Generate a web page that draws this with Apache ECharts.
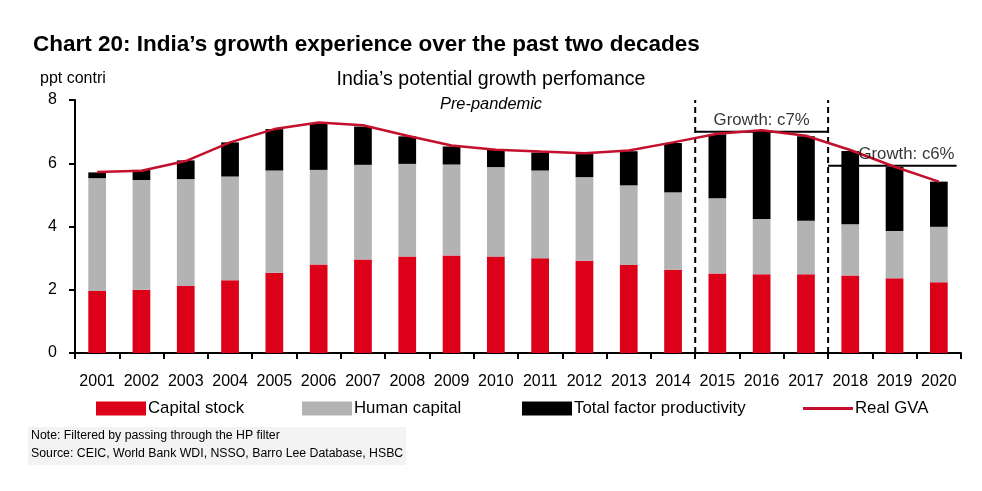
<!DOCTYPE html>
<html>
<head>
<meta charset="utf-8">
<script src="https://cdn.jsdelivr.net/npm/echarts@6/dist/echarts.min.js"></script>
<style>
html,body{margin:0;padding:0;background:#fff;}
#c{width:982px;height:491px;}
</style>
</head>
<body>
<div id="c"></div>
<script>
const years = ['2001','2002','2003','2004','2005','2006','2007','2008','2009','2010','2011','2012','2013','2014','2015','2016','2017','2018','2019','2020'];
const capitalStock = [1.96,2.00,2.12,2.30,2.54,2.80,2.96,3.05,3.08,3.05,3.00,2.92,2.78,2.63,2.51,2.49,2.49,2.45,2.36,2.24];
const humanCapital = [3.57,3.47,3.38,3.28,3.23,2.99,2.99,2.93,2.88,2.83,2.77,2.64,2.52,2.45,2.38,1.75,1.69,1.62,1.50,1.75];
const tfp = [0.18,0.32,0.59,1.08,1.31,1.48,1.21,0.87,0.57,0.54,0.57,0.73,1.08,1.56,2.03,2.79,2.67,2.32,2.02,1.43];
const realGVA = [5.72,5.76,6.07,6.66,7.08,7.29,7.20,6.87,6.56,6.43,6.37,6.32,6.40,6.66,6.93,7.04,6.87,6.42,5.89,5.42];
const yTicks = [0,2,4,6,8];
// period annotations (in category-position units along x)
const periodBounds = [14, 17];
const growth7 = {from: 14, to: 17, level: 7.0, labelAt: 15.5, text: 'Growth: c7%'};
const growth6 = {from: 17, to: 19.9, level: 5.92, labelAt: 18.77, text: 'Growth: c6%'};

const FONT = '"Liberation Sans",Arial,sans-serif';
const chart = echarts.init(document.getElementById('c'), null, {renderer:'canvas'});

const dashed = periodBounds.map(b => ({
  type:'line', xAxisIndex:1, yAxisIndex:0, symbol:'none', silent:true,
  data:[[b,0],[b,8]], lineStyle:{color:'#000', width:2, type:[6,4]}, z:5
}));
function growthSeries(g){
  return [{
    type:'line', xAxisIndex:1, yAxisIndex:0, symbol:'none', silent:true,
    data:[[g.from,g.level],[g.to,g.level]], lineStyle:{color:'#000', width:2}, z:4
  },{
    type:'scatter', xAxisIndex:1, yAxisIndex:0, symbolSize:0, silent:true, z:7,
    data:[[g.labelAt, g.level]],
    label:{show:true, position:'top', distance:3, formatter:g.text, fontFamily:FONT, fontSize:16.8, color:'#000'}
  }];
}
const legTxt = {fontFamily:FONT, fontSize:16.8, color:'#000', padding:[0,0,0,-3]};

chart.setOption({
  animation:false,
  backgroundColor:'#fff',
  title:[
    {text:"Chart 20: India’s growth experience over the past two decades", left:33, top:33, padding:0,
     textStyle:{fontFamily:FONT, fontWeight:'bold', fontSize:22.5, color:'#000'}},
    {text:'ppt contri', left:40, top:71, padding:0, textStyle:{fontFamily:FONT, fontWeight:'normal', fontSize:16, color:'#000'}},
    {text:'India’s potential growth perfomance', left:'center', top:70, padding:0,
     textStyle:{fontFamily:FONT, fontWeight:'normal', fontSize:19.6, color:'#000'}},
    {text:'Pre-pandemic', left:'center', top:96, padding:0,
     textStyle:{fontFamily:FONT, fontWeight:'normal', fontStyle:'italic', fontSize:16.4, color:'#000'}}
  ],
  graphic:[
    {type:'rect', shape:{x:28,y:427,width:378,height:38}, style:{fill:'#f3f3f3'}, z:-1},
    {type:'text', left:31, top:430, style:{text:'Note: Filtered by passing through the HP filter', font:'12.3px '+FONT, fill:'#000'}},
    {type:'text', left:31, top:448, style:{text:'Source: CEIC, World Bank WDI, NSSO, Barro Lee Database, HSBC', font:'12.3px '+FONT, fill:'#000'}}
  ],
  legend:[
    {data:[{name:'Capital stock', icon:'rect'}], left:96, top:400, padding:0, itemWidth:50, itemHeight:14, textStyle:legTxt},
    {data:[{name:'Human capital', icon:'rect'}], left:302, top:400, padding:0, itemWidth:50, itemHeight:14, textStyle:legTxt},
    {data:[{name:'Total factor productivity', icon:'rect'}], left:522, top:400, padding:0, itemWidth:50, itemHeight:14, textStyle:legTxt},
    {data:[{name:'Real GVA', icon:'rect'}], left:803, top:400, padding:0, itemWidth:50, itemHeight:3, textStyle:legTxt}
  ],
  grid:{left:75, right:21, top:100, bottom:138, containLabel:false},
  xAxis:[
    {type:'category', data:years, boundaryGap:true,
     axisLine:{lineStyle:{color:'#000', width:2}},
     axisTick:{show:true, inside:false, length:6, lineStyle:{color:'#000', width:2}},
     axisLabel:{fontFamily:FONT, fontSize:16, color:'#000', margin:21, interval:0}},
    {type:'value', min:0, max:20, show:false}
  ],
  yAxis:{type:'value', min:yTicks[0], max:yTicks[yTicks.length-1], interval:2,
     splitLine:{show:false},
     axisLine:{show:true, lineStyle:{color:'#000', width:2}},
     axisTick:{show:true, length:6, lineStyle:{color:'#000', width:2}},
     axisLabel:{fontFamily:FONT, fontSize:16, color:'#000', margin:18}},
  series:[
    {name:'Capital stock', type:'bar', stack:'a', data:capitalStock, barWidth:'40%', itemStyle:{color:'#dc0018'}},
    {name:'Human capital', type:'bar', stack:'a', data:humanCapital, itemStyle:{color:'#b3b3b3'}},
    {name:'Total factor productivity', type:'bar', stack:'a', data:tfp, itemStyle:{color:'#000'}},
    {name:'Real GVA', type:'line', data:realGVA, symbol:'none', lineStyle:{color:'#c4102c', width:2.5}, itemStyle:{color:'#c4102c'}, z:6},
    ...dashed,
    ...growthSeries(growth7),
    ...growthSeries(growth6)
  ]
});
</script>
</body>
</html>
